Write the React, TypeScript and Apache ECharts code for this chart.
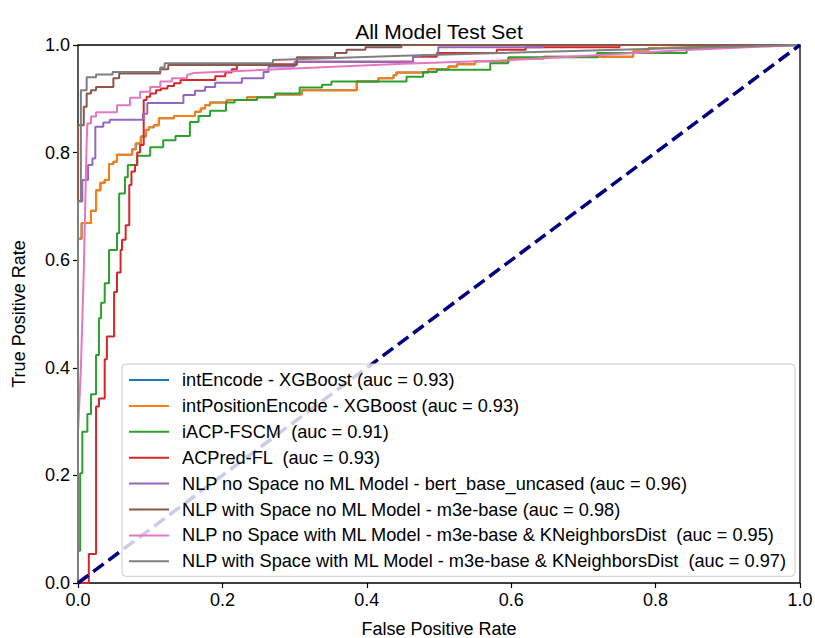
import React, { useEffect, useRef } from "react";
import * as echarts from "echarts";

const seriesNames = [
  "intEncode - XGBoost (auc = 0.93)",
  "intPositionEncode - XGBoost (auc = 0.93)",
  "iACP-FSCM  (auc = 0.91)",
  "ACPred-FL  (auc = 0.93)",
  "NLP no Space no ML Model - bert_base_uncased (auc = 0.96)",
  "NLP with Space no ML Model - m3e-base (auc = 0.98)",
  "NLP no Space with ML Model - m3e-base & KNeighborsDist  (auc = 0.95)",
  "NLP with Space with ML Model - m3e-base & KNeighborsDist  (auc = 0.97)",
];
const seriesColors = ["#1f77b4", "#ff7f0e", "#2ca02c", "#d62728", "#9467bd", "#8c564b", "#e377c2", "#7f7f7f"];

const xTicks = [0, 0.2, 0.4, 0.6, 0.8, 1.0];
const yTicks = [0, 0.2, 0.4, 0.6, 0.8, 1.0];

// intPositionEncode - XGBoost ROC points [fpr, tpr]
const intPositionEncodeRoc = [
  [0, 0], [0, 0.64], [0.005, 0.64], [0.005, 0.669], [0.018, 0.669], [0.018, 0.692], [0.025, 0.692], [0.025, 0.73],
  [0.031, 0.73], [0.031, 0.744], [0.037, 0.744], [0.037, 0.749], [0.043, 0.749], [0.043, 0.779], [0.049, 0.779],
  [0.049, 0.783], [0.054, 0.783], [0.054, 0.796], [0.075, 0.796], [0.075, 0.806], [0.08, 0.806], [0.08, 0.817],
  [0.087, 0.817], [0.087, 0.83], [0.094, 0.83], [0.094, 0.842], [0.098, 0.842], [0.098, 0.847], [0.105, 0.847],
  [0.105, 0.851], [0.112, 0.851], [0.112, 0.864], [0.133, 0.864], [0.133, 0.868], [0.162, 0.868], [0.162, 0.876],
  [0.17, 0.876], [0.17, 0.882], [0.176, 0.882], [0.176, 0.888], [0.183, 0.888], [0.183, 0.893], [0.206, 0.893],
  [0.206, 0.898], [0.234, 0.898], [0.234, 0.903], [0.273, 0.903], [0.273, 0.908], [0.31, 0.908], [0.31, 0.916],
  [0.386, 0.916], [0.386, 0.932], [0.416, 0.932], [0.416, 0.938], [0.437, 0.938], [0.437, 0.944], [0.441, 0.944],
  [0.441, 0.949], [0.485, 0.949], [0.485, 0.955], [0.513, 0.955], [0.513, 0.96], [0.525, 0.96], [0.525, 0.964],
  [0.55, 0.964], [0.55, 0.97], [0.596, 0.97], [0.596, 0.975], [0.645, 0.975], [0.645, 0.978], [0.769, 0.978],
  [0.769, 0.988], [0.79, 0.988], [0.79, 0.994], [1, 1],
];
// intEncode - XGBoost: coincides with intPositionEncode in the picture (hidden below it)
const intEncodeRoc = intPositionEncodeRoc.map((p) => [p[0], p[1]]);

const iacpRoc = [
  [0, 0], [0, 0.06], [0.003, 0.06], [0.003, 0.204], [0.006, 0.204], [0.006, 0.281], [0.013, 0.281], [0.013, 0.314],
  [0.018, 0.314], [0.018, 0.351], [0.025, 0.351], [0.025, 0.424], [0.029, 0.424], [0.029, 0.492], [0.032, 0.492],
  [0.032, 0.521], [0.037, 0.521], [0.037, 0.557], [0.043, 0.557], [0.043, 0.619], [0.054, 0.619], [0.054, 0.65],
  [0.057, 0.65], [0.057, 0.724], [0.065, 0.724], [0.065, 0.754], [0.069, 0.754], [0.069, 0.777], [0.082, 0.777],
  [0.082, 0.794], [0.1, 0.794], [0.1, 0.81], [0.118, 0.81], [0.118, 0.823], [0.135, 0.823], [0.135, 0.831],
  [0.155, 0.831], [0.155, 0.857], [0.167, 0.857], [0.167, 0.868], [0.183, 0.868], [0.183, 0.878], [0.205, 0.878],
  [0.205, 0.893], [0.217, 0.893], [0.217, 0.898], [0.248, 0.898], [0.248, 0.903], [0.273, 0.903], [0.273, 0.91],
  [0.307, 0.91], [0.307, 0.921], [0.338, 0.921], [0.338, 0.926], [0.351, 0.926], [0.351, 0.932], [0.455, 0.932],
  [0.455, 0.941], [0.478, 0.941], [0.478, 0.95], [0.497, 0.95], [0.497, 0.954], [0.571, 0.954], [0.571, 0.966],
  [0.596, 0.966], [0.596, 0.977], [0.719, 0.977], [0.719, 0.985], [0.843, 0.985], [0.843, 0.995], [1, 1],
];

const acpredRoc = [
  [0, 0], [0.015, 0], [0.015, 0.054], [0.025, 0.054], [0.025, 0.328], [0.029, 0.328], [0.029, 0.343], [0.037, 0.343],
  [0.037, 0.416], [0.04, 0.416], [0.04, 0.458], [0.05, 0.458], [0.05, 0.541], [0.054, 0.541], [0.054, 0.577],
  [0.059, 0.577], [0.059, 0.619], [0.061, 0.619], [0.061, 0.638], [0.066, 0.638], [0.066, 0.665], [0.071, 0.665],
  [0.071, 0.74], [0.074, 0.74], [0.074, 0.765], [0.079, 0.765], [0.079, 0.777], [0.082, 0.777], [0.082, 0.8],
  [0.086, 0.8], [0.086, 0.814], [0.091, 0.814], [0.091, 0.898], [0.095, 0.898], [0.095, 0.904], [0.1, 0.904],
  [0.1, 0.91], [0.108, 0.91], [0.108, 0.916], [0.115, 0.916], [0.115, 0.919], [0.124, 0.919], [0.124, 0.924],
  [0.133, 0.924], [0.133, 0.929], [0.142, 0.929], [0.142, 0.935], [0.19, 0.935], [0.19, 0.942], [0.204, 0.942],
  [0.204, 0.949], [0.213, 0.949], [0.213, 0.955], [0.22, 0.955], [0.22, 0.964], [0.303, 0.964], [0.303, 0.969],
  [0.464, 0.969], [0.464, 0.978], [0.497, 0.978], [0.497, 0.985], [0.58, 0.985], [0.58, 0.991], [0.62, 0.991],
  [0.62, 0.996], [0.75, 0.996], [0.75, 1], [1, 1],
];

const nlpNoSpaceNoMlRoc = [
  [0, 0], [0, 0.709], [0.006, 0.709], [0.006, 0.749], [0.014, 0.749], [0.014, 0.777], [0.02, 0.777], [0.02, 0.789],
  [0.024, 0.789], [0.024, 0.848], [0.035, 0.848], [0.035, 0.856], [0.044, 0.856], [0.044, 0.861], [0.09, 0.861],
  [0.09, 0.872], [0.096, 0.872], [0.096, 0.892], [0.146, 0.892], [0.146, 0.907], [0.162, 0.907], [0.162, 0.915],
  [0.176, 0.915], [0.176, 0.922], [0.19, 0.922], [0.19, 0.93], [0.227, 0.93], [0.227, 0.938], [0.257, 0.938],
  [0.257, 0.95], [0.264, 0.95], [0.264, 0.96], [0.3, 0.96], [0.3, 0.969], [0.464, 0.969], [0.464, 0.978],
  [0.474, 0.978], [0.474, 0.981], [0.499, 0.981], [0.499, 0.996], [0.644, 0.996], [0.644, 1], [1, 1],
];

const nlpSpaceNoMlRoc = [
  [0, 0], [0, 0.851], [0.008, 0.851], [0.008, 0.885], [0.012, 0.885], [0.012, 0.91], [0.018, 0.91], [0.018, 0.916],
  [0.025, 0.916], [0.025, 0.922], [0.049, 0.922], [0.049, 0.938], [0.057, 0.938], [0.057, 0.947], [0.114, 0.947],
  [0.114, 0.955], [0.125, 0.955], [0.125, 0.963], [0.303, 0.963], [0.303, 0.977], [0.356, 0.977], [0.356, 0.985],
  [0.372, 0.985], [0.372, 0.991], [0.398, 0.991], [0.398, 0.996], [0.448, 0.996], [0.448, 1], [1, 1],
];

const nlpNoSpaceMlRoc = [
  [0, 0], [0, 0.28], [0.004, 0.4], [0.008, 0.58], [0.012, 0.82], [0.013, 0.854], [0.018, 0.854], [0.018, 0.867],
  [0.025, 0.867], [0.025, 0.875], [0.054, 0.875], [0.054, 0.888], [0.072, 0.888], [0.072, 0.902], [0.086, 0.902],
  [0.086, 0.913], [0.1, 0.913], [0.1, 0.922], [0.114, 0.922], [0.114, 0.932], [0.13, 0.932], [0.13, 0.938],
  [0.151, 0.938], [0.151, 0.944], [0.16, 0.948], [0.45, 0.965], [0.585, 0.971], [0.85, 0.991], [1, 1],
];

const nlpSpaceMlRoc = [
  [0, 0], [0, 0.71], [0.004, 0.71], [0.004, 0.916], [0.012, 0.916], [0.012, 0.94], [0.025, 0.94], [0.025, 0.945],
  [0.048, 0.945], [0.048, 0.95], [0.114, 0.95], [0.114, 0.958], [0.12, 0.958], [0.12, 0.966], [0.27, 0.966],
  [0.27, 0.972], [0.45, 0.98], [0.85, 0.995], [1, 1],
];

const chanceLine = [[0, 0], [1, 1]];

const curves = [
  intEncodeRoc,
  intPositionEncodeRoc,
  iacpRoc,
  acpredRoc,
  nlpNoSpaceNoMlRoc,
  nlpSpaceNoMlRoc,
  nlpNoSpaceMlRoc,
  nlpSpaceMlRoc,
];

const FONT = "'Liberation Sans', Arial, sans-serif";

export default function App() {
  const ref = useRef<HTMLDivElement>(null);
  useEffect(() => {
    if (!ref.current) return;
    const chart = echarts.init(ref.current, null, { renderer: "svg" });
    const series: any[] = curves.map((d, i) => ({
      name: seriesNames[i],
      type: "line",
      data: d,
      symbol: "none",
      showSymbol: false,
      color: seriesColors[i],
      lineStyle: { width: 2, color: seriesColors[i] },
      z: 2 + i * 0.01,
    }));
    series.push({
      name: "chance",
      type: "line",
      data: chanceLine,
      symbol: "none",
      color: "#000080",
      lineStyle: { width: 3.5, color: "#000080", type: [13, 6] },
      z: 3,
    });
    chart.setOption({
      animation: false,
      backgroundColor: "#ffffff",
      textStyle: { fontFamily: FONT },
      title: {
        text: "All Model Test Set",
        left: 434,
        top: 16,
        textAlign: "center",
        textStyle: { fontFamily: FONT, fontSize: 21, fontWeight: "normal", color: "#000" },
      },
      grid: {
        left: 78,
        top: 45,
        right: 15,
        bottom: 55,
        outerBoundsMode: "none",
        containLabel: false,
        show: true,
        borderColor: "#000",
        borderWidth: 1.3,
        backgroundColor: "transparent",
      },
      legend: {
        data: seriesNames,
        orient: "vertical",
        left: 122,
        top: 364,
        itemWidth: 40,
        itemHeight: 12,
        itemGap: 7.9,
        padding: [7, 8, 6, 6],
        backgroundColor: "rgba(255,255,255,0.8)",
        borderColor: "#cccccc",
        borderWidth: 1,
        borderRadius: 4,
        itemStyle: { opacity: 0 },
        textStyle: { fontFamily: FONT, fontSize: 18.2, color: "#000", padding: [0, 0, 0, 8] },
      },
      xAxis: {
        type: "value",
        min: 0,
        max: 1,
        interval: 0.2,
        name: "False Positive Rate",
        nameLocation: "middle",
        nameGap: 37,
        nameTextStyle: { fontFamily: FONT, fontSize: 18, color: "#000" },
        axisLine: { show: false },
        axisTick: { show: true, inside: false, length: 5, lineStyle: { color: "#000", width: 1.2 } },
        axisLabel: {
          fontFamily: FONT,
          fontSize: 18,
          color: "#000",
          margin: 8,
          formatter: (v: number) => (xTicks.some((t) => Math.abs(t - v) < 1e-9) ? v.toFixed(1) : ""),
        },
        splitLine: { show: false },
      },
      yAxis: {
        type: "value",
        min: 0,
        max: 1,
        interval: 0.2,
        name: "True Positive Rate",
        nameLocation: "middle",
        nameGap: 50,
        nameTextStyle: { fontFamily: FONT, fontSize: 18, color: "#000" },
        axisLine: { show: false },
        axisTick: { show: true, inside: false, length: 5, lineStyle: { color: "#000", width: 1.2 } },
        axisLabel: {
          fontFamily: FONT,
          fontSize: 18,
          color: "#000",
          margin: 8,
          formatter: (v: number) => (yTicks.some((t) => Math.abs(t - v) < 1e-9) ? v.toFixed(1) : ""),
        },
        splitLine: { show: false },
      },
      series,
    });
    return () => chart.dispose();
  }, []);
  return <div ref={ref} style={{ position: "fixed", left: 0, top: 0, width: 815, height: 638 }} />;
}
